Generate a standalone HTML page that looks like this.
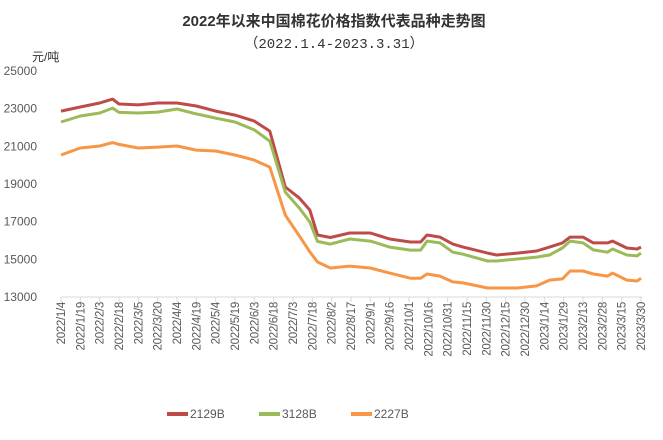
<!DOCTYPE html>
<html><head><meta charset="utf-8"><style>
body{margin:0;background:#fff;width:663px;height:435px;overflow:hidden;font-family:"Liberation Sans","Noto Sans CJK SC",sans-serif}
svg text{font-family:"Liberation Sans","Noto Sans CJK SC",sans-serif}
</style></head><body>
<svg id="chart" width="663" height="435" xmlns="http://www.w3.org/2000/svg">
<text x="334" y="26" text-anchor="middle" font-size="15" font-weight="bold" fill="#333">2022年以来中国棉花价格指数代表品种走势图</text>
<text x="334" y="48" text-anchor="middle" font-size="14" fill="#333" style="font-family:'Liberation Mono','Noto Sans CJK SC',monospace">（2022.1.4-2023.3.31）</text>
<text x="32" y="61" font-size="12" fill="#333">元/吨</text>
<g id="axes"></g>
<g id="series"></g>
<g id="legend"></g>
</svg>
<script>
const days=[0,15,30,40,45,60,75,90,105,120,135,150,162,174,185,193,199,209,224,240,255,271,279,284,294,304,312,331,338,354,369,379,389,395,405,413,424,428,439,447,450];
const s2129B=[22870,23090,23300,23510,23250,23200,23300,23300,23140,22870,22660,22340,21810,18840,18250,17620,16290,16160,16400,16400,16080,15920,15920,16290,16180,15810,15650,15330,15230,15330,15440,15650,15870,16180,16180,15870,15870,15970,15600,15550,15650];
const s3128B=[22290,22610,22770,23030,22800,22770,22820,22980,22720,22500,22290,21870,21280,18570,17720,16980,15950,15810,16080,15970,15650,15490,15490,15970,15870,15380,15270,14910,14910,15020,15120,15230,15600,15970,15870,15500,15380,15550,15230,15180,15330];
const s2227B=[20540,20910,21020,21200,21100,20910,20960,21020,20800,20750,20540,20270,19900,17350,16240,15400,14860,14540,14640,14540,14270,14000,14000,14220,14110,13800,13750,13480,13480,13480,13590,13900,13960,14380,14380,14220,14110,14270,13900,13850,14000];
const yTicks=[13000,15000,17000,19000,21000,23000,25000];
const xLabels=["2022/1/4","2022/1/19","2022/2/3","2022/2/18","2022/3/5","2022/3/20","2022/4/4","2022/4/19","2022/5/4","2022/5/19","2022/6/3","2022/6/18","2022/7/3","2022/7/18","2022/8/2","2022/8/17","2022/9/1","2022/9/16","2022/10/1","2022/10/16","2022/10/31","2022/11/15","2022/11/30","2022/12/15","2022/12/30","2023/1/14","2023/1/29","2023/2/13","2023/2/28","2023/3/15","2023/3/30"];
const seriesNames=["2129B","3128B","2227B"];
const NS="http://www.w3.org/2000/svg";
const X0=61,X1=641,Y0=297,Y1=71;
const xs=d=>X0+d*(X1-X0)/450;
const ys=v=>Y0-(v-13000)*(Y0-Y1)/12000;
function mk(t,a,p){const e=document.createElementNS(NS,t);for(const k in a)e.setAttribute(k,a[k]);p.appendChild(e);return e;}
const axes=document.getElementById('axes');
yTicks.forEach(v=>{
 const t=mk('text',{x:37,y:ys(v)+4,'text-anchor':'end','font-size':12,fill:'#595959'},axes);
 
 
 t.textContent=v;
});
const ax=mk('line',{x1:X0,x2:X1+1,y1:Y0,y2:Y0,stroke:'#d9d9d9','stroke-width':1},axes);


xLabels.forEach((l,i)=>{
 const x=xs(i*15);
 mk('line',{x1:x,x2:x,y1:Y0,y2:Y0+5,stroke:'#d9d9d9'},axes);
 const t=mk('text',{x:0,y:0,transform:`translate(${x+4},${Y0+5}) rotate(-90)`,'text-anchor':'end','font-size':11.5,'letter-spacing':'-0.3',fill:'#595959'},axes);
 
 
 t.textContent=l;
});
const colors=['#be4b48','#9bbb59','#f79646'];
const data=[s2129B,s3128B,s2227B];
const sg=document.getElementById('series');
data.forEach((arr,k)=>{
 const d=arr.map((v,i)=>(i?'L':'M')+xs(days[i]).toFixed(1)+','+ys(v).toFixed(1)).join(' ');
 const p=mk('path',{d:d,fill:'none',stroke:colors[k],'stroke-width':3,'stroke-linejoin':'round'},sg);
 
 
});
const lg=document.getElementById('legend');
const lx=[167,259,351];
seriesNames.forEach((n,k)=>{
 const g=mk('g',{},lg);
 
 
 mk('line',{x1:lx[k],x2:lx[k]+21,y1:414,y2:414,stroke:colors[k],'stroke-width':4},g);
 const t=mk('text',{x:lx[k]+23,y:418,'font-size':12,fill:'#595959'},g);
 t.textContent=n;
});
</script>
</body></html>
